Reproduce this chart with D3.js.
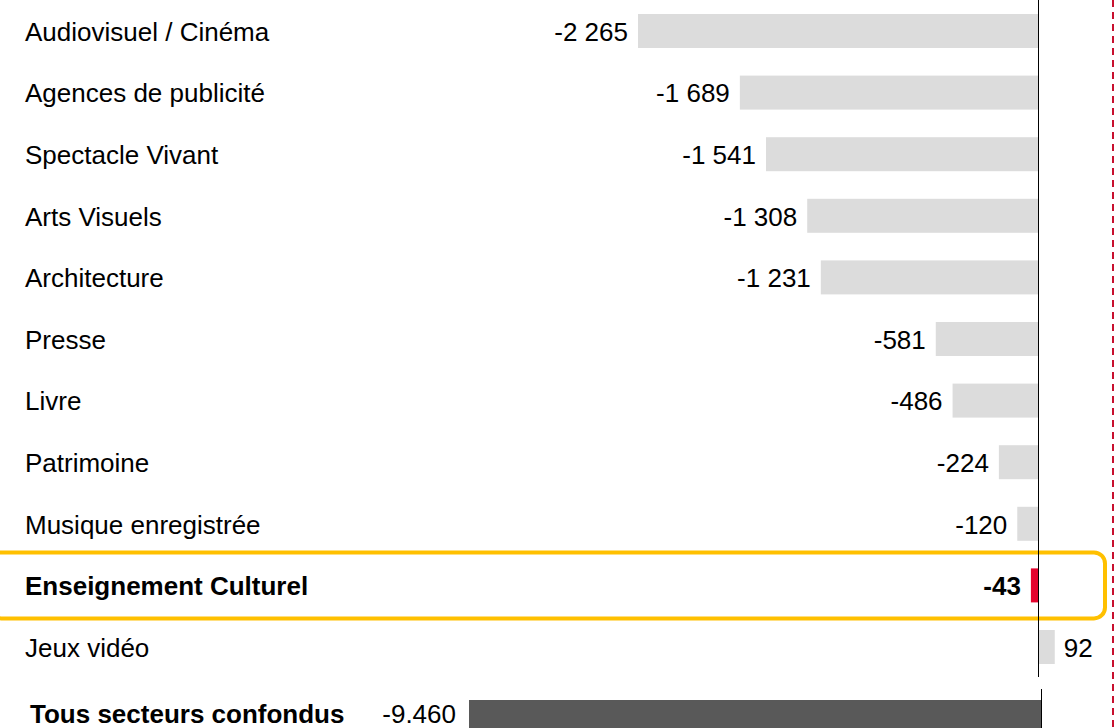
<!DOCTYPE html>
<html>
<head>
<meta charset="utf-8">
<script src="https://d3js.org/d3.v7.min.js"></script>
<style>
  body { margin: 0; background: #fff; }
  svg { display: block; font-family: "Liberation Sans", Arial, sans-serif; }
</style>
</head>
<body>
<div id="chart"></div>
<script>

var sectors = ["Audiovisuel / Cinéma", "Agences de publicité", "Spectacle Vivant", "Arts Visuels",
  "Architecture", "Presse", "Livre", "Patrimoine", "Musique enregistrée",
  "Enseignement Culturel", "Jeux vidéo"];
var values = [-2265, -1689, -1541, -1308, -1231, -581, -486, -224, -120, -43, 92];
var valueLabels = ["-2 265", "-1 689", "-1 541", "-1 308", "-1 231", "-581", "-486", "-224", "-120", "-43", "92"];
var highlight = "Enseignement Culturel";

var totalLabel = "Tous secteurs confondus";
var totalValue = -9460;
var totalValueLabel = "-9.460";

var svgWidth = 1114;
var svgHeight = 728;
var fontSize = "26px";

var svg = d3.select("#chart")
  .append("svg")
  .attr("width", svgWidth)
  .attr("height", svgHeight);

// bars by sector
var xScale = d3.scaleLinear()
  .domain([-2265, 0])
  .range([638, 1038.5]);

var yScale = d3.scaleBand()
  .domain(sectors)
  .range([0.2, 0.2 + 61.6 * sectors.length])
  .paddingInner(0.448)
  .paddingOuter(0.224);

var rows = sectors.map(function(s, i) {
  return { name: s, value: values[i], label: valueLabels[i] };
});

// orange frame round the highlighted row
var hy = yScale(highlight) + yScale.bandwidth() / 2;
svg.append("rect")
  .attr("x", -10)
  .attr("y", hy - 33)
  .attr("width", 1115)
  .attr("height", 66)
  .attr("rx", 11)
  .attr("fill", "none")
  .attr("stroke", "#FFC000")
  .attr("stroke-width", 4);

svg.selectAll(".bar")
  .data(rows)
  .enter()
  .append("rect")
  .attr("class", "bar")
  .attr("x", d => xScale(Math.min(0, d.value)))
  .attr("y", d => yScale(d.name))
  .attr("width", d => Math.abs(xScale(d.value) - xScale(0)))
  .attr("height", yScale.bandwidth())
  .attr("fill", d => d.name === highlight ? "#E4032E" : "#DCDCDC");

svg.selectAll(".cat")
  .data(rows)
  .enter()
  .append("text")
  .attr("class", "cat")
  .attr("x", 25)
  .attr("y", d => yScale(d.name) + yScale.bandwidth() / 2)
  .attr("dy", "0.38em")
  .attr("font-size", fontSize)
  .attr("font-weight", d => d.name === highlight ? "bold" : "normal")
  .attr("fill", "#000")
  .text(d => d.name);

svg.selectAll(".val")
  .data(rows)
  .enter()
  .append("text")
  .attr("class", "val")
  .attr("x", d => d.value < 0 ? xScale(d.value) - 10 : xScale(d.value) + 9)
  .attr("y", d => yScale(d.name) + yScale.bandwidth() / 2)
  .attr("dy", "0.38em")
  .attr("font-size", fontSize)
  .attr("font-weight", d => d.name === highlight ? "bold" : "normal")
  .style("text-anchor", d => d.value < 0 ? "end" : "start")
  .attr("fill", "#000")
  .text(d => d.label);

svg.append("line")
  .attr("x1", xScale(0)).attr("x2", xScale(0))
  .attr("y1", 0).attr("y2", 677)
  .attr("stroke", "#000")
  .attr("stroke-width", 1);

// total bar, own scale
var xTotal = d3.scaleLinear()
  .domain([totalValue, 0])
  .range([469, 1041.5]);

var totalY = 700;
svg.append("rect")
  .attr("x", xTotal(totalValue))
  .attr("y", totalY)
  .attr("width", xTotal(0) - xTotal(totalValue))
  .attr("height", 34)
  .attr("fill", "#595959");

svg.append("line")
  .attr("x1", xTotal(0)).attr("x2", xTotal(0))
  .attr("y1", 689).attr("y2", 728)
  .attr("stroke", "#000")
  .attr("stroke-width", 1);

svg.append("text")
  .attr("x", 30)
  .attr("y", 714)
  .attr("dy", "0.35em")
  .attr("font-size", fontSize)
  .attr("font-weight", "bold")
  .text(totalLabel);

svg.append("text")
  .attr("x", xTotal(totalValue) - 13)
  .attr("y", 714)
  .attr("dy", "0.35em")
  .attr("font-size", fontSize)
  .style("text-anchor", "end")
  .text(totalValueLabel);

// red dashed line on the right
svg.append("line")
  .attr("x1", 1113).attr("x2", 1113)
  .attr("y1", 0).attr("y2", 728)
  .attr("stroke", "#C8102E")
  .attr("stroke-width", 2)
  .attr("stroke-dasharray", "7,5");

</script>
</body>
</html>
